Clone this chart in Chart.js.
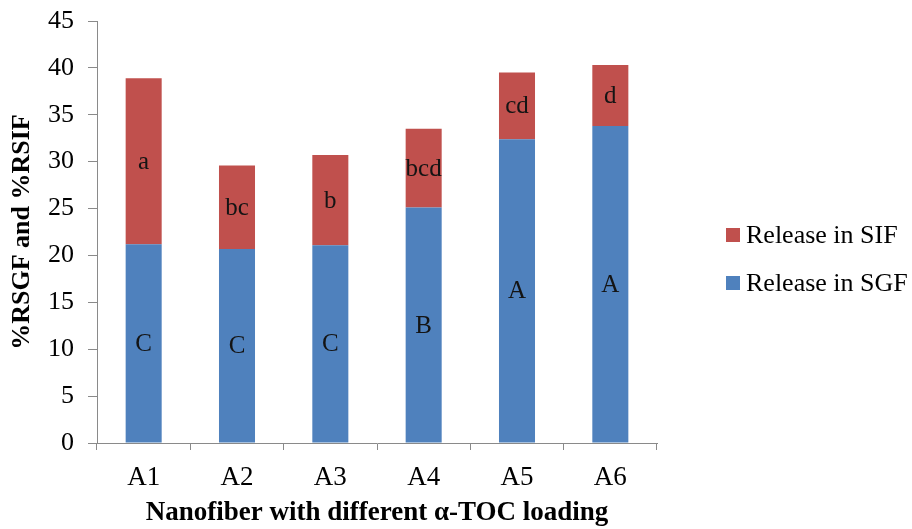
<!DOCTYPE html>
<html>
<head>
<meta charset="utf-8">
<script src="https://cdn.jsdelivr.net/npm/chart.js@4/dist/chart.umd.min.js"></script>
<style>
  html, body { margin: 0; padding: 0; background: #fff; }
  canvas { display: block; }
</style>
</head>
<body>
<canvas id="chart" width="912" height="529"></canvas>
<script>
// Nanofiber formulations
const categories = ['A1', 'A2', 'A3', 'A4', 'A5', 'A6'];
// Cumulative release (%) in simulated gastric fluid
const releaseSGF = [21.2, 20.7, 21.1, 25.1, 32.4, 33.8];
// Additional release (%) in simulated intestinal fluid (stacked on top)
const releaseSIF = [17.7, 8.9, 9.6, 8.4, 7.1, 6.5];
// Significance letters for each segment
const lettersSGF = ['C', 'C', 'C', 'B', 'A', 'A'];
const lettersSIF = ['a', 'bc', 'b', 'bcd', 'cd', 'd'];
// Value axis ticks
const yTicks = [0, 5, 10, 15, 20, 25, 30, 35, 40, 45];

const SERIF = '"Liberation Serif", "Times New Roman", serif';
const AXIS_COLOR = '#8a8a8a';

// Writes the significance letter in the middle of every bar segment
const segmentLetters = {
  id: 'segmentLetters',
  afterDatasetsDraw(chart) {
    const ctx = chart.ctx;
    ctx.save();
    ctx.font = '25px ' + SERIF;
    ctx.textAlign = 'center';
    ctx.textBaseline = 'middle';
    ctx.fillStyle = '#141414';
    chart.data.datasets.forEach((ds, di) => {
      const meta = chart.getDatasetMeta(di);
      meta.data.forEach((bar, i) => {
        const { x, y, base } = bar.getProps(['x', 'y', 'base'], true);
        ctx.fillText(ds.letters[i], x, (y + base) / 2 + 1);
      });
    });
    ctx.restore();
  }
};

// Legend on the right: intestinal release listed above gastric release
const sideLegend = {
  id: 'sideLegend',
  afterDraw(chart) {
    const ctx = chart.ctx;
    const items = chart.data.datasets.slice().reverse();
    const x0 = 726, y0 = 235, gap = 48, box = 14;
    ctx.save();
    ctx.font = '26px ' + SERIF;
    ctx.textAlign = 'left';
    ctx.textBaseline = 'middle';
    items.forEach((ds, k) => {
      const cy = y0 + k * gap;
      ctx.fillStyle = ds.backgroundColor;
      ctx.fillRect(x0, cy - box / 2, box, box);
      ctx.fillStyle = '#000';
      ctx.fillText(ds.label, x0 + box + 6, cy + 1);
    });
    ctx.restore();
  }
};

new Chart(document.getElementById('chart'), {
  type: 'bar',
  data: {
    labels: categories,
    datasets: [
      {
        label: 'Release in SGF',
        data: releaseSGF,
        letters: lettersSGF,
        backgroundColor: '#4F81BD',
        barPercentage: 0.386,
        categoryPercentage: 1
      },
      {
        label: 'Release in SIF',
        data: releaseSIF,
        letters: lettersSIF,
        backgroundColor: '#C0504D',
        barPercentage: 0.386,
        categoryPercentage: 1
      }
    ]
  },
  options: {
    responsive: false,
    animation: false,
    layout: { padding: { top: 21, right: 255, bottom: 0, left: 0 } },
    plugins: {
      legend: { display: false },
      tooltip: { enabled: false }
    },
    scales: {
      x: {
        stacked: true,
        grid: {
          drawOnChartArea: false,
          drawTicks: true,
          tickLength: 7,
          color: AXIS_COLOR
        },
        border: { color: AXIS_COLOR, width: 1 },
        ticks: {
          color: '#000',
          padding: 12,
          font: { family: SERIF, size: 27 }
        },
        title: {
          display: true,
          text: 'Nanofiber with different α-TOC loading',
          color: '#000',
          padding: { top: 0, bottom: 0 },
          font: { family: SERIF, size: 27, weight: 'bold' }
        },
        afterFit(scale) { scale.height = 86; }
      },
      y: {
        stacked: true,
        min: 0,
        max: 45,
        afterBuildTicks(scale) { scale.ticks = yTicks.map(v => ({ value: v })); },
        grid: {
          drawOnChartArea: false,
          drawTicks: true,
          tickLength: 9,
          color: AXIS_COLOR
        },
        border: { color: AXIS_COLOR, width: 1 },
        ticks: {
          color: '#000',
          padding: 14,
          font: { family: SERIF, size: 26 }
        },
        title: {
          display: true,
          text: '%RSGF and %RSIF',
          color: '#000',
          padding: { top: 7, bottom: 0 },
          font: { family: SERIF, size: 26, weight: 'bold' }
        },
        afterFit(scale) {
          scale.width = 97;
          // the layout padding already leaves room for the end labels
          scale.paddingTop = 0;
          scale.paddingBottom = 0;
        }
      }
    }
  },
  plugins: [segmentLetters, sideLegend]
});
</script>
</body>
</html>
